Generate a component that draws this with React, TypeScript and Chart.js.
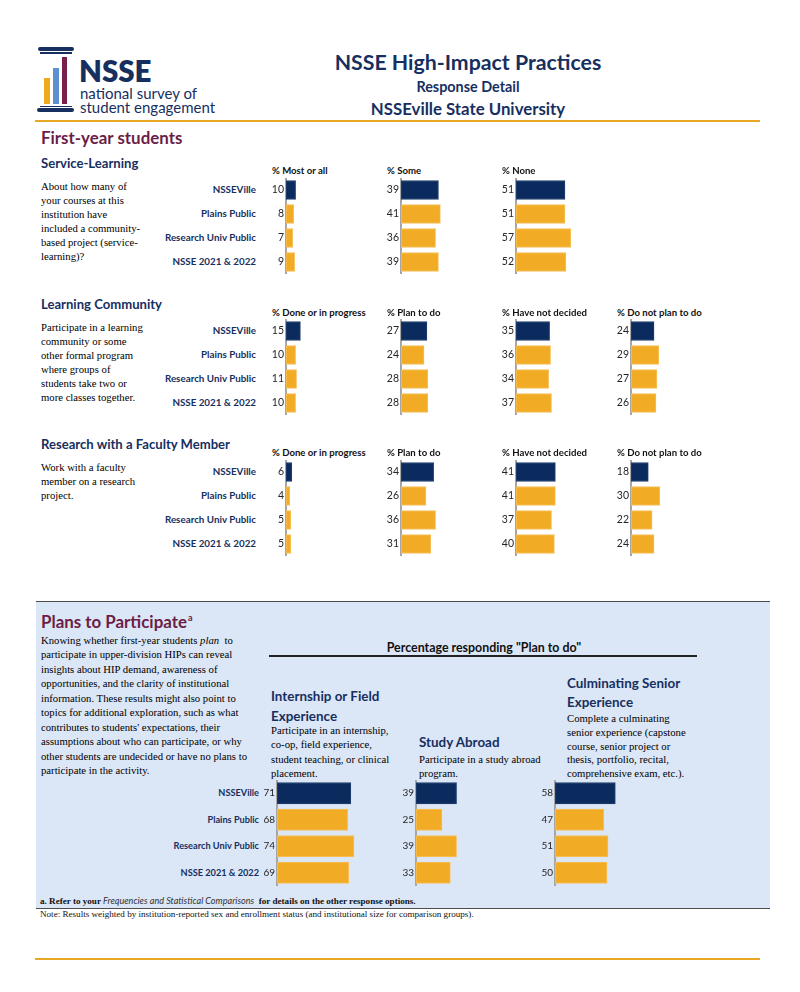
import React, { useEffect, useRef } from "react";
import { Chart, registerables } from "chart.js";

Chart.register(...registerables);

// ---------- DATA ----------
const groups = ["NSSEVille", "Plains Public", "Research Univ Public", "NSSE 2021 & 2022"];

const serviceHeaders = ["% Most or all", "% Some", "% None"];
const serviceMostOrAll = [10, 8, 7, 9];
const serviceSome = [39, 41, 36, 39];
const serviceNone = [51, 51, 57, 52];

const hipHeaders = ["% Done or in progress", "% Plan to do", "% Have not decided", "% Do not plan to do"];
const lcDone = [15, 10, 11, 10];
const lcPlan = [27, 24, 28, 28];
const lcUndecided = [35, 36, 34, 37];
const lcNoPlan = [24, 29, 27, 26];

const rfDone = [6, 4, 5, 5];
const rfPlan = [34, 26, 36, 31];
const rfUndecided = [41, 41, 37, 40];
const rfNoPlan = [18, 30, 22, 24];

const planInternship = [71, 68, 74, 69];
const planStudyAbroad = [39, 25, 39, 33];
const planCulminating = [58, 47, 51, 50];

// ---------- STYLE ----------
const NAVY = "#0b2b5e";
const GOLD = "#f2ab24";
const TEXT_NAVY = "#172f5f";
const MAROON = "#6b1d47";
const AXIS = "#a6a6a6";
const LINE_GOLD = "#e8a825";
const BOX_BLUE = "#dbe6f6";
const SANS = "Lato, 'Open Sans', sans-serif";
const SERIF = "'Liberation Serif', 'DejaVu Serif', serif";
const SERIF_SIZE = 10.7;

type PanelProps = {
  values: number[];
  axisX: number;
  top: number;
  rowH: number;
  barH: number;
  scaleW: number;
  fontSize: number;
};

function BarPanel({ values, axisX, top, rowH, barH, scaleW, fontSize }: PanelProps) {
  const ref = useRef<HTMLCanvasElement>(null);
  const labelW = 30;
  const width = Math.round(labelW + scaleW);
  const height = Math.round(rowH * values.length);
  useEffect(() => {
    const chart = new Chart(ref.current as HTMLCanvasElement, {
      type: "bar",
      data: {
        labels: values.map((v) => String(v)),
        datasets: [
          {
            data: values,
            backgroundColor: values.map((_, i) => (i === 0 ? NAVY : GOLD)),
            borderColor: values.map((_, i) => (i === 0 ? "#23406f" : "#f6c05a")),
            borderWidth: 1,
            borderSkipped: false,
            barThickness: barH,
          },
        ],
      },
      options: {
        indexAxis: "y",
        responsive: false,
        maintainAspectRatio: false,
        animation: false,
        layout: { padding: 0 },
        plugins: { legend: { display: false }, tooltip: { enabled: false } },
        scales: {
          x: { display: false, min: 0, max: 100 },
          y: {
            grid: { display: false, drawTicks: false },
            border: { display: true, color: AXIS, width: 2 },
            ticks: { padding: 2, color: "#262626", font: { family: SANS, size: fontSize } },
            afterFit: (s: any) => {
              s.width = labelW;
              s.paddingTop = 0;
              s.paddingBottom = 0;
            },
          },
        },
      },
    });
    return () => chart.destroy();
  }, []);
  return (
    <canvas
      ref={ref}
      width={width}
      height={height}
      style={{ position: "absolute", left: axisX - labelW, top, width, height }}
    />
  );
}

type TProps = {
  x: number;
  y: number;
  size: number;
  color?: string;
  weight?: number | string;
  family?: string;
  align?: "left" | "right" | "center";
  children: React.ReactNode;
};

function T({ x, y, size, color = "#000", weight = 400, family = SANS, align = "left", children }: TProps) {
  const style: React.CSSProperties = {
    position: "absolute",
    top: y,
    fontSize: size,
    color,
    fontWeight: weight as any,
    fontFamily: family,
    whiteSpace: "nowrap",
    lineHeight: 1,
  };
  if (align === "left") {
    style.left = x;
    style.transform = "translateY(-50%)";
  } else if (align === "right") {
    style.right = 800 - x;
    style.transform = "translateY(-50%)";
  } else {
    style.left = x;
    style.transform = "translate(-50%, -50%)";
  }
  return <div style={style}>{children}</div>;
}

function Block({
  x, top, lh, size, lines, family = SERIF, color = "#000", weight = 400,
}: { x: number; top: number; lh: number; size: number; lines: React.ReactNode[]; family?: string; color?: string; weight?: number }) {
  return (
    <div
      style={{
        position: "absolute", left: x, top, fontSize: size, lineHeight: `${lh}px`,
        fontFamily: family, color, fontWeight: weight, whiteSpace: "nowrap",
      }}
    >
      {lines.map((l, i) => (
        <div key={i}>{l}</div>
      ))}
    </div>
  );
}

function Section({
  rowsTop, headerY, headers, columns, axes,
}: { rowsTop: number; headerY: number; headers: string[]; columns: number[][]; axes: number[] }) {
  const rowH = 24;
  return (
    <>
      {groups.map((g, i) => (
        <T key={g} x={256} y={rowsTop + rowH * (i + 0.5)} size={9.8} weight={700} color={TEXT_NAVY} align="right">
          {g}
        </T>
      ))}
      {columns.map((vals, c) => (
        <React.Fragment key={c}>
          <T x={axes[c] - 14} y={headerY} size={9.6} weight={700} color="#111">
            {headers[c]}
          </T>
          <BarPanel values={vals} axisX={axes[c]} top={rowsTop} rowH={rowH} barH={19} scaleW={96} fontSize={10.5} />
        </React.Fragment>
      ))}
    </>
  );
}

export default function App() {
  const fyAxes = [286, 401, 516, 631];
  const planAxes = [277, 416, 554.5];
  const planRowH = 26.5;
  const planTop = 780;
  return (
    <div style={{ position: "absolute", left: 0, top: 0, width: 800, height: 992, background: "#fff", overflow: "hidden" }}>
      {/* Logo */}
      <div style={{ position: "absolute", left: 38, top: 47, width: 36, height: 4, background: TEXT_NAVY, borderRadius: 2 }} />
      <div style={{ position: "absolute", left: 40, top: 52, width: 32, height: 1.5, background: TEXT_NAVY }} />
      <div style={{ position: "absolute", left: 44, top: 78, width: 6, height: 26, background: "#f0a91f" }} />
      <div style={{ position: "absolute", left: 53, top: 68, width: 5.5, height: 36, background: "#5b8fd0" }} />
      <div style={{ position: "absolute", left: 62, top: 57, width: 5, height: 47, background: "#7a1e4b" }} />
      <div style={{ position: "absolute", left: 40, top: 105.5, width: 32, height: 1.5, background: TEXT_NAVY }} />
      <div style={{ position: "absolute", left: 37, top: 108, width: 37, height: 4, background: TEXT_NAVY, borderRadius: 2 }} />
      <T x={79} y={71} size={29.5} weight={800} color={TEXT_NAVY}>NSSE</T>
      <T x={80} y={93} size={15} color={TEXT_NAVY}>national survey of</T>
      <T x={80} y={106.5} size={15} color={TEXT_NAVY}>student engagement</T>

      {/* Header */}
      <T x={468} y={63} size={21.3} weight={700} color={TEXT_NAVY} align="center">NSSE High-Impact Practices</T>
      <T x={468} y={87} size={14.4} weight={700} color={TEXT_NAVY} align="center">Response Detail</T>
      <T x={468} y={108.5} size={16.8} weight={700} color={TEXT_NAVY} align="center">NSSEville State University</T>
      <div style={{ position: "absolute", left: 35, top: 120, width: 725, height: 1.5, background: LINE_GOLD }} />

      <T x={41} y={138} size={16.9} weight={700} color={MAROON}>First-year students</T>

      {/* Service-Learning */}
      <T x={41} y={164} size={13.1} weight={700} color={TEXT_NAVY}>Service-Learning</T>
      <Block x={41} top={179} lh={14} size={SERIF_SIZE} lines={["About how many of", "your courses at this", "institution have", "included a community-", "based project (service-", "learning)?"]} />
      <Section rowsTop={178} headerY={171} headers={serviceHeaders} columns={[serviceMostOrAll, serviceSome, serviceNone]} axes={fyAxes} />

      {/* Learning Community */}
      <T x={41} y={305} size={13.1} weight={700} color={TEXT_NAVY}>Learning Community</T>
      <Block x={41} top={320} lh={14} size={SERIF_SIZE} lines={["Participate in a learning", "community or some", "other formal program", "where groups of", "students take two or", "more classes together."]} />
      <Section rowsTop={319} headerY={313} headers={hipHeaders} columns={[lcDone, lcPlan, lcUndecided, lcNoPlan]} axes={fyAxes} />

      {/* Research with Faculty */}
      <T x={41} y={445} size={13.1} weight={700} color={TEXT_NAVY}>Research with a Faculty Member</T>
      <Block x={41} top={460} lh={14} size={SERIF_SIZE} lines={["Work with a faculty", "member on a research", "project."]} />
      <Section rowsTop={460} headerY={453} headers={hipHeaders} columns={[rfDone, rfPlan, rfUndecided, rfNoPlan]} axes={fyAxes} />

      {/* Plans box */}
      <div style={{ position: "absolute", left: 36, top: 601, width: 734, height: 306, background: BOX_BLUE, borderTop: "1.5px solid #4d4d4d", borderBottom: "1.5px solid #4d4d4d" }} />
      <T x={41} y={622} size={16.9} weight={700} color={MAROON}>
        Plans to Participate<sup style={{ fontSize: 9, verticalAlign: "7px", marginLeft: 1 }}>a</sup>
      </T>
      <Block
        x={41}
        top={632.75}
        lh={14.5}
        size={SERIF_SIZE}
        lines={[
          <span>Knowing whether first-year students <i>plan</i>&nbsp; to</span>,
          "participate in upper-division HIPs can reveal",
          "insights about HIP demand, awareness of",
          "opportunities, and the clarity of institutional",
          "information. These results might also point to",
          "topics for additional exploration, such as what",
          "contributes to students' expectations, their",
          "assumptions about who can participate, or why",
          "other students are undecided or have no plans to",
          "participate in the activity.",
        ]}
      />
      <T x={484} y={648} size={12.4} weight={700} color="#111" align="center">Percentage responding "Plan to do"</T>
      <div style={{ position: "absolute", left: 269, top: 655, width: 428, height: 1.5, background: "#222" }} />

      <Block x={271} top={687} lh={19.5} size={13.4} weight={700} family={SANS} color={TEXT_NAVY} lines={["Internship or Field", "Experience"]} />
      <Block x={271} top={723} lh={14.3} size={SERIF_SIZE} lines={["Participate in an internship,", "co-op, field experience,", "student teaching, or clinical", "placement."]} />

      <T x={419} y={743} size={13.4} weight={700} color={TEXT_NAVY}>Study Abroad</T>
      <Block x={419} top={752} lh={14.3} size={SERIF_SIZE} lines={["Participate in a study abroad", "program."]} />

      <Block x={567} top={673.5} lh={19.5} size={13.4} weight={700} family={SANS} color={TEXT_NAVY} lines={["Culminating Senior", "Experience"]} />
      <Block x={567} top={712} lh={13.8} size={SERIF_SIZE} lines={["Complete a culminating", "senior experience (capstone", "course, senior project or", "thesis, portfolio, recital,", "comprehensive exam, etc.)."]} />

      {groups.map((g, i) => (
        <T key={g} x={259} y={planTop + planRowH * (i + 0.5)} size={9.2} weight={700} color={TEXT_NAVY} align="right">
          {g}
        </T>
      ))}
      {[planInternship, planStudyAbroad, planCulminating].map((vals, c) => (
        <BarPanel key={c} values={vals} axisX={planAxes[c]} top={planTop} rowH={planRowH} barH={21.5} scaleW={103.5} fontSize={10} />
      ))}

      <div style={{ position: "absolute", left: 40, top: 900, transform: "translateY(-50%)", fontFamily: SERIF, fontSize: 9.1, fontWeight: 700, whiteSpace: "nowrap", color: "#111" }}>
        a. Refer to your <i style={{ fontFamily: SANS, fontWeight: 400, color: "#333" }}>Frequencies and Statistical Comparisons</i>&nbsp; for details on the other response options.
      </div>
      <div style={{ position: "absolute", left: 40, top: 914, transform: "translateY(-50%)", fontFamily: SERIF, fontSize: 9.1, whiteSpace: "nowrap", color: "#111" }}>
        Note: Results weighted by institution-reported sex and enrollment status (and institutional size for comparison groups).
      </div>

      <div style={{ position: "absolute", left: 35, top: 958, width: 725, height: 1.5, background: LINE_GOLD }} />
    </div>
  );
}
